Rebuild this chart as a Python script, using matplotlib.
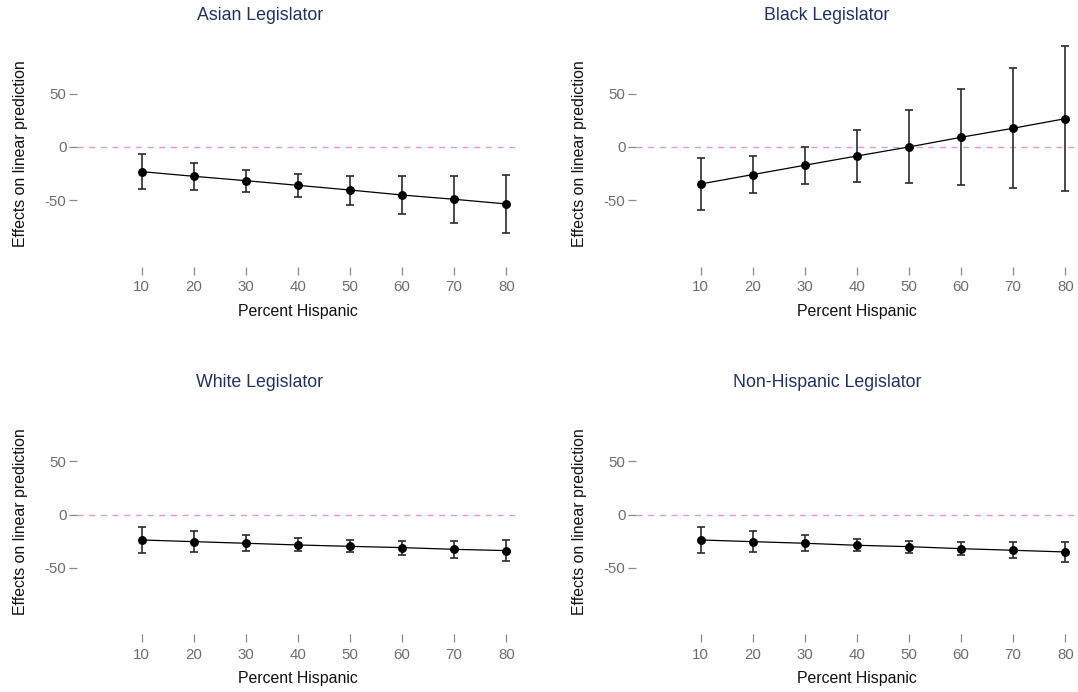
import matplotlib
matplotlib.use("Agg")
import matplotlib.pyplot as plt

plt.rcParams['font.family'] = ['Liberation Sans', 'DejaVu Sans']

# percent hispanic values (x axis)
pct_hispanic = [10, 20, 30, 40, 50, 60, 70, 80]

titles = ["Asian Legislator", "Black Legislator", "White Legislator", "Non-Hispanic Legislator"]

# point estimates
asian = [-23.2, -27.6, -31.7, -36.1, -40.5, -45.2, -49.2, -53.6]
black = [-34.8, -26.0, -17.2, -8.5, 0.0, 9.1, 17.6, 26.6]
white = [-23.8, -25.4, -26.9, -28.5, -29.8, -31.0, -32.6, -33.8]
nonhisp = [-23.8, -25.4, -26.9, -28.8, -30.1, -32.0, -33.5, -35.1]

# confidence interval bounds (upper, lower)
asian_hi = [-6.6, -14.7, -21.3, -25.7, -27.3, -27.6, -27.0, -26.3]
asian_lo = [-39.5, -40.1, -42.0, -46.7, -54.2, -62.7, -71.8, -81.2]
black_hi = [-10.0, -8.5, 0.0, 16.0, 34.5, 54.3, 74.3, 95.0]
black_lo = [-59.3, -43.6, -34.5, -32.9, -34.2, -36.0, -38.9, -41.7]
white_hi = [-11.9, -15.3, -19.1, -21.9, -24.1, -24.7, -24.7, -24.1]
white_lo = [-36.0, -35.1, -34.1, -34.1, -35.4, -37.6, -40.7, -43.8]
nonhisp_hi = [-11.9, -15.6, -19.1, -22.5, -24.4, -25.7, -26.0, -25.4]
nonhisp_lo = [-36.0, -35.1, -34.4, -34.4, -35.7, -37.9, -41.0, -44.5]

W, H = 1078, 692
fig = plt.figure(figsize=(W / 100, H / 100), dpi=100)

panels = [
    (asian, asian_lo, asian_hi, 77, 40.6, 260),
    (black, black_lo, black_hi, 636, 40.6, 827),
    (white, white_lo, white_hi, 77, 408.3, 260),
    (nonhisp, nonhisp_lo, nonhisp_hi, 636, 408.3, 827),
]

for (est, lo, hi, px, py, tx), title in zip(panels, titles):
    ax = fig.add_axes([px / W, 1 - (py + 226.1) / H, 441 / W, 226.1 / H])
    ax.axhline(0, color='#e89ac0', lw=1.0, ls=(0, (4.4, 4.0)), zorder=1)
    yerr = [[e - l for e, l in zip(est, lo)], [h - e for e, h in zip(est, hi)]]
    ax.errorbar(pct_hispanic, est, yerr=yerr, fmt='none', ecolor='#2b2b2b',
                elinewidth=1.2, capsize=2.9, capthick=1.2, zorder=2)
    ax.plot(pct_hispanic, est, color='black', lw=0.9, marker='o', ms=5.4, zorder=3)
    ax.set_xlim(-2.4, 82.25)
    ax.set_ylim(-112.6, 100)
    ax.set_xticks(pct_hispanic)
    ax.set_yticks([-50, 0, 50])
    ax.set_yticklabels(['-50', '0', '50'])
    for s in ax.spines.values():
        s.set_visible(False)
    ax.tick_params(axis='both', colors='#8a8a8a', labelcolor='#6e6e6e',
                   labelsize=10.8, length=5.5, width=0.9)
    ax.tick_params(axis='y', pad=2)
    ax.tick_params(axis='x', pad=4)
    ax.set_xlabel("Percent Hispanic", fontsize=11.4, color='#111111', labelpad=7)
    ax.set_ylabel("Effects on linear prediction", fontsize=11.4, color='#111111', labelpad=12)
    fig.text(tx / W, 1 - (py - 25.5) / H, title, ha='center', va='center',
             fontsize=12.8, color='#1f3263')

fig.savefig("out.png", dpi=100)
